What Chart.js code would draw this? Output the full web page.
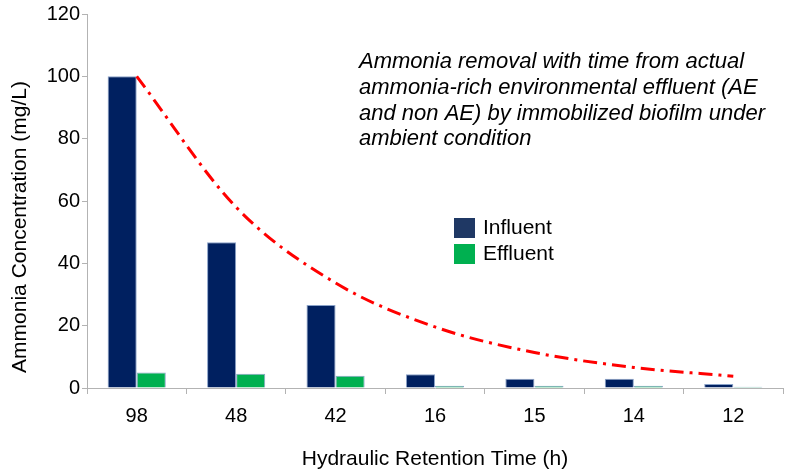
<!DOCTYPE html>
<html>
<head>
<meta charset="utf-8">
<script src="https://cdn.jsdelivr.net/npm/chart.js@4"></script>
<style>
  html, body { margin: 0; padding: 0; background: #fff; }
  #chart { display: block; }
</style>
</head>
<body>
<canvas id="chart" width="794" height="469"></canvas>
<script>
// data
const retentionTimes = ["98", "48", "42", "16", "15", "14", "12"];
const influent = [100, 46.8, 26.6, 4.4, 3.0, 3.0, 1.3];
const effluent = [5.0, 4.6, 3.9, 0.7, 0.7, 0.7, 0.4];
// red dash-dot trend curve (influent decay)
const trend = [100, 58, 33.7, 19.6, 11.4, 6.6, 3.8];
const yTicks = [0, 20, 40, 60, 80, 100, 120];

const noteLines = [
  "Ammonia removal with time from actual",
  "ammonia-rich environmental effluent (AE",
  "and non AE) by immobilized biofilm under",
  "ambient condition",
];
const legendItems = [
  { label: "Influent", color: "#1f3864" },
  { label: "Effluent", color: "#00b050" },
];

const FONT = "'Liberation Sans', Arial, sans-serif";

// draws the note, the legend and the y title
const extrasPlugin = {
  id: "extras",
  afterDraw(chart) {
    const ctx = chart.ctx;
    ctx.save();
    ctx.fillStyle = "#000";
    ctx.textBaseline = "middle";
    ctx.textAlign = "left";

    ctx.font = "italic 22px " + FONT;
    noteLines.forEach((line, i) => {
      ctx.fillText(line, 359, 62 + i * 25.7);
    });

    ctx.font = "21px " + FONT;
    legendItems.forEach((item, i) => {
      const y = 218 + i * 26;
      ctx.fillStyle = item.color;
      ctx.fillRect(454, y, 21, 20);
      ctx.fillStyle = "#000";
      ctx.fillText(item.label, 483, y + 10);
    });

    ctx.translate(20, 227);
    ctx.rotate(-Math.PI / 2);
    ctx.textAlign = "center";
    ctx.fillText("Ammonia Concentration (mg/L)", 0, 0);
    ctx.restore();
  },
};

const ctx = document.getElementById("chart").getContext("2d");
new Chart(ctx, {
  type: "bar",
  data: {
    labels: retentionTimes,
    datasets: [
      {
        type: "line",
        label: "Trend",
        data: trend,
        borderColor: "#ff0000",
        borderWidth: 3,
        borderDash: [14, 6, 3, 6],
        pointRadius: 0,
        cubicInterpolationMode: "monotone",
        fill: false,
        order: 0,
      },
      {
        label: "Influent",
        data: influent,
        backgroundColor: "#002060",
        borderColor: "#8aa2c8",
        borderWidth: 1,
        order: 1,
      },
      {
        label: "Effluent",
        data: effluent,
        backgroundColor: "#00b050",
        borderColor: "#8aa2c8",
        borderWidth: 1,
        order: 1,
      },
    ],
  },
  options: {
    responsive: false,
    animation: false,
    layout: { padding: { left: 0, right: 11, top: 14, bottom: 0 } },
    datasets: {
      bar: { categoryPercentage: 0.585, barPercentage: 1 },
    },
    plugins: {
      legend: { display: false },
      tooltip: { enabled: false },
    },
    scales: {
      x: {
        afterFit(scale) {
          scale.height = 81;
        },
        grid: {
          drawOnChartArea: false,
          tickLength: 6,
          color: "#b3b3b3",
          offset: true,
        },
        border: { color: "#b3b3b3" },
        ticks: {
          color: "#000",
          padding: 10,
          font: { family: FONT, size: 20 },
        },
        title: {
          display: true,
          text: "Hydraulic Retention Time (h)",
          color: "#000",
          padding: { top: 4, bottom: -3 },
          font: { family: FONT, size: 21 },
        },
      },
      y: {
        min: 0,
        max: 120,
        afterFit(scale) {
          scale.width = 87;
        },
        afterBuildTicks(scale) {
          scale.ticks = yTicks.map((v) => ({ value: v }));
        },
        grid: {
          drawOnChartArea: false,
          tickLength: 5,
          color: "#b3b3b3",
        },
        border: { color: "#b3b3b3" },
        ticks: {
          color: "#000",
          padding: 2,
          font: { family: FONT, size: 20 },
        },
      },
    },
  },
  plugins: [extrasPlugin],
});
</script>
</body>
</html>
